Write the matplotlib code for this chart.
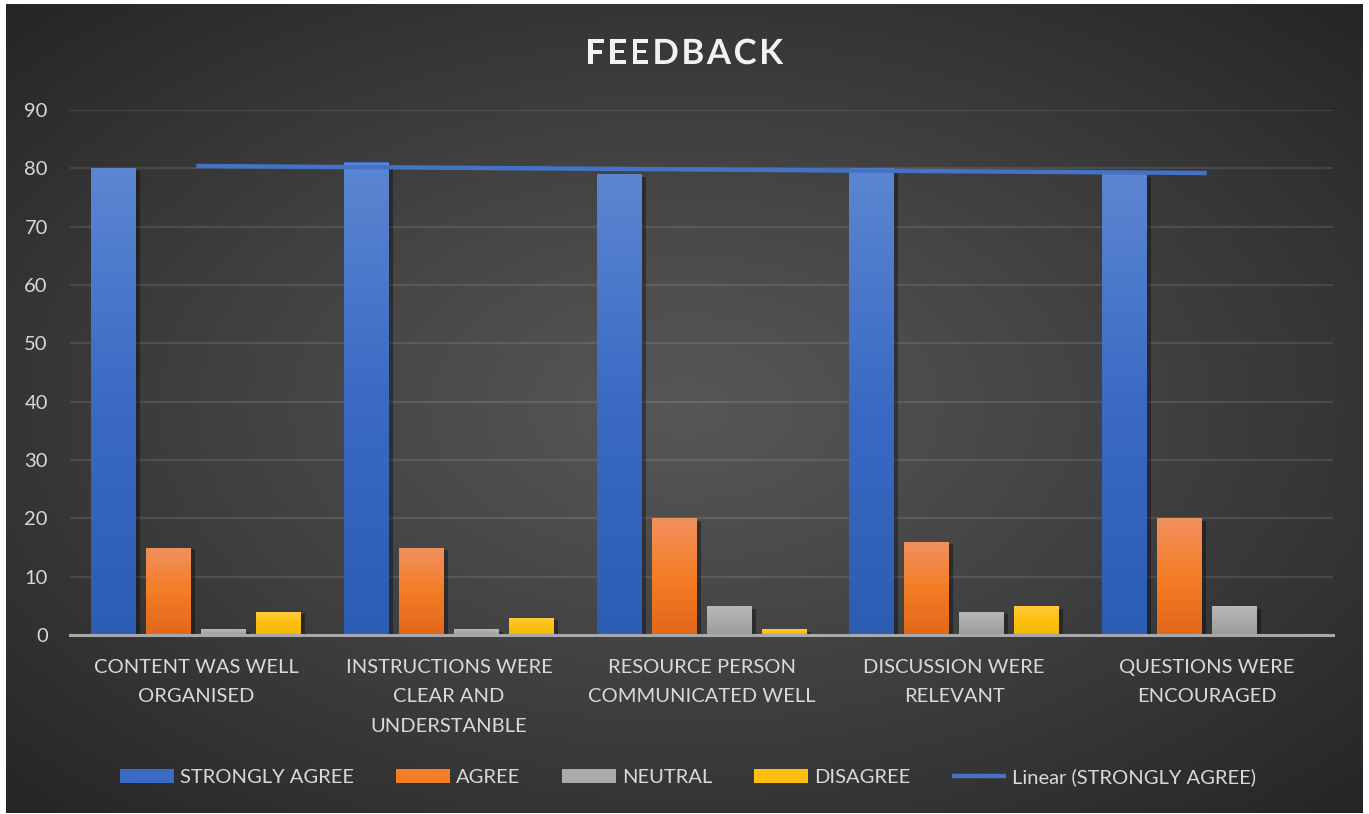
"""
Feedback survey chart: grouped bars with a linear trendline on STRONGLY AGREE.
"""
import numpy as np
import matplotlib
matplotlib.use("Agg")
import matplotlib.pyplot as plt
import matplotlib.patheffects as pe
from matplotlib.colors import to_rgb

# data
categories = [
    "CONTENT WAS WELL\nORGANISED",
    "INSTRUCTIONS WERE\nCLEAR AND\nUNDERSTANBLE",
    "RESOURCE PERSON\nCOMMUNICATED WELL",
    "DISCUSSION WERE\nRELEVANT",
    "QUESTIONS WERE\nENCOURAGED",
]
series_names = ["STRONGLY AGREE", "AGREE", "NEUTRAL", "DISAGREE"]
strongly_agree = [80, 81, 79, 80, 79]
agree = [15, 15, 20, 16, 20]
neutral = [1, 1, 5, 4, 5]
disagree = [4, 3, 1, 5, 0]
y_ticks = [0, 10, 20, 30, 40, 50, 60, 70, 80, 90]

# gradient stops (top, middle, bottom) per series
grad_colors = [
    ["#5C86D1", "#3A6AC4", "#2C5DB4"],
    ["#F1915F", "#F47D26", "#E2681A"],
    ["#B9B9B9", "#ABABAB", "#9B9B9B"],
    ["#FFCB42", "#FDC010", "#F2B800"],
]
text_color = "#D9D9D9"
font = ["Lato", "DejaVu Sans"]
plt.rcParams["font.family"] = font

W, H = 1369, 814
fig = plt.figure(figsize=(W / 100, H / 100), dpi=100, facecolor="white")

# radial-gradient background panel
bg = fig.add_axes([6 / W, 1 / H, (1363 - 6) / W, (810 - 1) / H], zorder=-5)
gx, gy = np.meshgrid(np.linspace(-1, 1, 400), np.linspace(-1, 1, 300))
r = np.clip(np.sqrt(gx ** 2 + gy ** 2) / np.sqrt(2), 0, 1)
lum = 0.34 - (0.34 - 0.145) * r ** 1.1
bg.imshow(np.dstack([lum, lum, lum]), aspect="auto", extent=[0, 1, 0, 1])
bg.set_axis_off()

ax = fig.add_axes([70 / W, (H - 635) / H, (1333 - 70) / W, (635 - 110) / H])
ax.set_facecolor("none")

x = np.arange(len(categories))
bar_w = 0.178
step = 0.2177
all_series = [strongly_agree, agree, neutral, disagree]


def gradient_img(stops, n=100):
    c = np.array([to_rgb(s) for s in stops])
    t = np.linspace(0, 1, n)
    pos = np.linspace(0, 1, len(stops))
    rgb = np.stack([np.interp(t, pos, c[:, k]) for k in range(3)], axis=-1)
    return rgb[:, None, :]


bar_handles = []
for i, (vals, name) in enumerate(zip(all_series, series_names)):
    offs = x + (i - 1.5) * step
    bars = ax.bar(offs, vals, width=bar_w, color=grad_colors[i][1], label=name,
                  zorder=3, linewidth=0,
                  path_effects=[pe.SimplePatchShadow(offset=(3, -2), alpha=0.35,
                                                     shadow_rgbFace="black"),
                                pe.Normal()])
    bar_handles.append(bars)
    img = gradient_img(grad_colors[i])
    for b in bars:
        if b.get_height() <= 0:
            continue
        bx, bw, bh = b.get_x(), b.get_width(), b.get_height()
        im = ax.imshow(img, extent=[bx, bx + bw, 0, bh], aspect="auto",
                       zorder=3.5, interpolation="bilinear")
        im.set_clip_path(b)

# linear trendline through STRONGLY AGREE
coef = np.polyfit(x, strongly_agree, 1)
trend, = ax.plot(x, np.polyval(coef, x), color="#4472C4", linewidth=3.2,
                 solid_capstyle="butt", zorder=5, label="Linear (STRONGLY AGREE)")

ax.set_xlim(-0.5, len(categories) - 0.5)
ax.set_ylim(0, 90)
ax.set_yticks(y_ticks)
ax.set_xticks(x)
ax.set_xticklabels(categories, fontsize=14.5, color=text_color, linespacing=1.92,
                   va="top")
ax.tick_params(axis="y", length=0, pad=16, labelsize=14.5, labelcolor=text_color)
ax.tick_params(axis="x", length=0, pad=17)
for lab in ax.get_yticklabels():
    lab.set_horizontalalignment("right")

ax.grid(axis="y", color="white", alpha=0.1, linewidth=1.6, zorder=0)
for s in ["top", "right", "left"]:
    ax.spines[s].set_visible(False)
ax.spines["bottom"].set_color("#A8A8A8")
ax.spines["bottom"].set_linewidth(2.2)
ax.spines["bottom"].set_zorder(4)

# legend, trendline last
handles = bar_handles + [trend]
labels = series_names + ["Linear (STRONGLY AGREE)"]
leg = fig.legend(handles, labels, loc="center", bbox_to_anchor=(688 / W, (H - 777) / H),
                 ncol=5, frameon=False, fontsize=14.5, handlelength=2.7,
                 handleheight=0.75, handletextpad=0.3, columnspacing=2.05)
for t in leg.get_texts():
    t.set_color(text_color)
for h in leg.legend_handles:
    h.set_path_effects([])

# title with letter spacing
fig.canvas.draw()
renderer = fig.canvas.get_renderer()
title = "FEEDBACK"
spacing = 2.6
chars = []
widths = []
for ch in title:
    t = fig.text(0, 0, ch, fontsize=25, fontweight="bold", color="#F2F2F2",
                 ha="left", va="baseline",
                 path_effects=[pe.SimpleLineShadow(offset=(1.5, -1.5)), pe.Normal()])
    widths.append(t.get_window_extent(renderer).width)
    chars.append(t)
total = sum(widths) + spacing * (len(title) - 1)
xpos = 684 - total / 2
for t, w in zip(chars, widths):
    t.set_position((xpos / W, (H - 64) / H))
    xpos += w + spacing

fig.savefig("out.png", dpi=100, facecolor="white")
